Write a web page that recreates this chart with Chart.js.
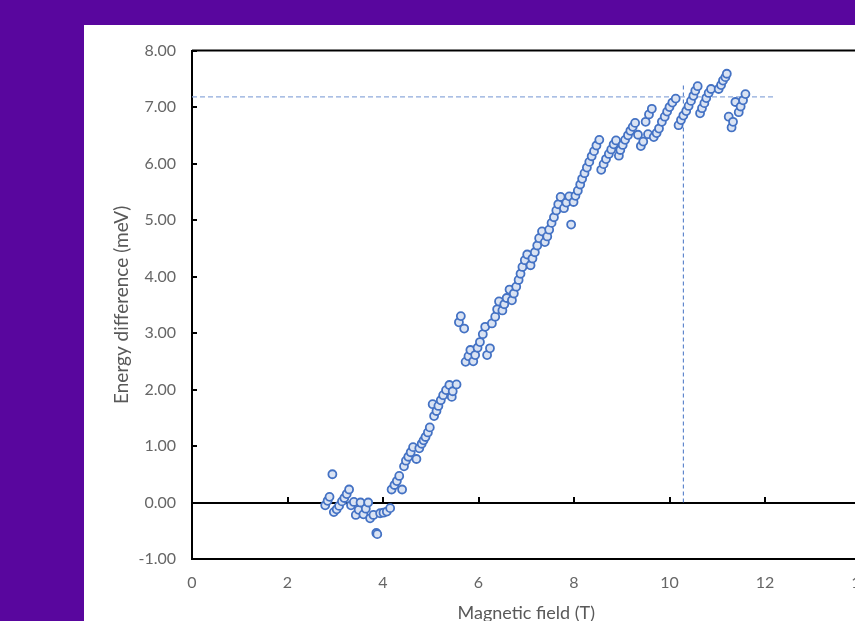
<!DOCTYPE html>
<html>
<head>
<meta charset="utf-8">
<script src="https://cdn.jsdelivr.net/npm/chart.js@4.4.1/dist/chart.umd.min.js"></script>
<style>
  html, body { margin: 0; padding: 0; width: 855px; height: 621px; overflow: hidden; background: #59069e; }
  #panel { position: absolute; left: 84px; top: 25px; width: 820px; height: 620px; background: #ffffff; }
  canvas { display: block; }
</style>
</head>
<body>
<div id="panel"><canvas id="chart" width="820" height="620"></canvas></div>
<script>
// Measured energy splitting versus applied field
const fieldT = [
  2.79, 2.84, 2.88, 2.94, 2.97, 3.03, 3.08, 3.14, 3.19, 3.24, 3.29, 3.33, 3.39, 3.43, 3.49, 3.53,
  3.59, 3.64, 3.69, 3.73, 3.80, 3.86, 3.88, 3.94, 4.01, 4.08, 4.15, 4.18, 4.24, 4.29, 4.34, 4.40,
  4.44, 4.48, 4.53, 4.58, 4.63, 4.70, 4.76, 4.81, 4.85, 4.89, 4.94, 4.98, 5.04, 5.07, 5.12, 5.16,
  5.21, 5.26, 5.32, 5.39, 5.44, 5.46, 5.54, 5.59, 5.63, 5.70, 5.73, 5.79, 5.83, 5.89, 5.93, 5.98,
  6.03, 6.09, 6.14, 6.18, 6.24, 6.28, 6.35, 6.39, 6.43, 6.50, 6.54, 6.59, 6.65, 6.70, 6.74, 6.79,
  6.84, 6.88, 6.92, 6.97, 7.02, 7.09, 7.13, 7.18, 7.23, 7.27, 7.33, 7.39, 7.44, 7.48, 7.53, 7.58,
  7.63, 7.67, 7.72, 7.79, 7.84, 7.90, 7.94, 7.99, 8.03, 8.08, 8.13, 8.17, 8.22, 8.27, 8.32, 8.37,
  8.42, 8.47, 8.53, 8.57, 8.62, 8.67, 8.73, 8.78, 8.83, 8.88, 8.94, 8.97, 9.02, 9.07, 9.13, 9.18,
  9.23, 9.28, 9.34, 9.40, 9.45, 9.50, 9.55, 9.57, 9.63, 9.67, 9.73, 9.78, 9.84, 9.90, 9.95, 10.00,
  10.06, 10.13, 10.19, 10.24, 10.29, 10.35, 10.40, 10.45, 10.50, 10.54, 10.59, 10.64, 10.68, 10.73, 10.77, 10.82,
  10.87, 11.03, 11.08, 11.12, 11.17, 11.20, 11.24, 11.30, 11.33, 11.38, 11.45, 11.49, 11.54, 11.59
];
const energyMeV = [
  -0.05, 0.03, 0.10, 0.50, -0.17, -0.12, -0.06, 0.02, 0.08, 0.15, 0.23, -0.05, 0.01, -0.22, -0.13, 0.00,
  -0.21, -0.11, 0.00, -0.28, -0.22, -0.54, -0.56, -0.19, -0.18, -0.16, -0.10, 0.23, 0.31, 0.38, 0.47, 0.23,
  0.64, 0.74, 0.81, 0.89, 0.98, 0.77, 0.96, 1.04, 1.10, 1.16, 1.24, 1.33, 1.74, 1.53, 1.62, 1.71,
  1.81, 1.90, 1.99, 2.08, 1.87, 1.97, 2.09, 3.19, 3.30, 3.08, 2.49, 2.59, 2.70, 2.50, 2.61, 2.74,
  2.84, 2.98, 3.11, 2.61, 2.73, 3.17, 3.29, 3.42, 3.56, 3.40, 3.51, 3.62, 3.77, 3.58, 3.70, 3.82,
  3.94, 4.05, 4.17, 4.29, 4.39, 4.20, 4.32, 4.43, 4.55, 4.68, 4.80, 4.61, 4.71, 4.83, 4.95, 5.05,
  5.17, 5.28, 5.41, 5.21, 5.31, 5.42, 4.92, 5.32, 5.43, 5.52, 5.63, 5.73, 5.83, 5.93, 6.03, 6.13,
  6.22, 6.32, 6.42, 5.89, 5.99, 6.08, 6.17, 6.25, 6.34, 6.41, 6.14, 6.24, 6.33, 6.42, 6.50, 6.58,
  6.65, 6.72, 6.51, 6.31, 6.39, 6.74, 6.52, 6.87, 6.97, 6.47, 6.54, 6.62, 6.74, 6.83, 6.92, 7.00,
  7.08, 7.15, 6.68, 6.77, 6.85, 6.93, 7.02, 7.11, 7.20, 7.29, 7.37, 6.89, 6.98, 7.07, 7.16, 7.25,
  7.32, 7.32, 7.39, 7.47, 7.53, 7.59, 6.83, 6.64, 6.74, 7.09, 6.91, 7.01, 7.12, 7.23
];

// Saturation level and the field where it is reached
const plateauLine = { fieldFrom: 0, fieldTo: 12.17, energy: 7.18 };
const onsetLine = { field: 10.29, energyFrom: 0, energyTo: 7.42 };

// Axis ranges
const fieldAxis = { min: 0, max: 14, step: 2 };
const energyAxis = { min: -1, max: 8, step: 1 };

const points = fieldT.map((x, i) => ({ x, y: energyMeV[i] }));

// Plot frame, inner tick marks and tick marks along the zero line
const axisFrame = {
  id: 'axisFrame',
  beforeDatasetsDraw(chart) {
    const { ctx, chartArea: a, scales: { x, y } } = chart;
    ctx.save();
    ctx.strokeStyle = '#000';
    ctx.lineWidth = 2;
    ctx.beginPath();
    ctx.moveTo(a.left, a.top);
    ctx.lineTo(a.right, a.top);
    ctx.lineTo(a.right, a.bottom);
    const y0 = Math.round(y.getPixelForValue(0));
    y.ticks.forEach(t => {
      const py = Math.round(y.getPixelForValue(t.value));
      ctx.moveTo(a.left, py);
      ctx.lineTo(a.left + 5, py);
    });
    x.ticks.forEach(t => {
      if (t.value <= fieldAxis.min) return;
      const px = Math.round(x.getPixelForValue(t.value));
      ctx.moveTo(px, y0);
      ctx.lineTo(px, y0 - 6);
    });
    ctx.stroke();
    ctx.restore();
  }
};

const tickFont = { family: 'Lato', size: 16 };
const titleFont = { family: 'Lato', size: 18 };

new Chart(document.getElementById('chart'), {
  type: 'scatter',
  data: {
    datasets: [
      {
        data: points,
        pointRadius: 4,
        pointBorderWidth: 1.8,
        pointBackgroundColor: '#dae3f3',
        pointBorderColor: '#4472c4',
        showLine: false
      },
      {
        data: [
          { x: plateauLine.fieldFrom, y: plateauLine.energy },
          { x: plateauLine.fieldTo, y: plateauLine.energy }
        ],
        showLine: true,
        borderColor: '#8faadc',
        borderWidth: 1.3,
        borderDash: [5, 3],
        pointRadius: 0
      },
      {
        data: [
          { x: onsetLine.field, y: onsetLine.energyFrom },
          { x: onsetLine.field, y: onsetLine.energyTo }
        ],
        showLine: true,
        borderColor: '#4472c4',
        borderWidth: 1,
        borderDash: [4, 3],
        pointRadius: 0
      }
    ]
  },
  options: {
    responsive: false,
    animation: false,
    events: [],
    layout: { padding: { left: 0, top: 24, right: 43.5, bottom: 0 } },
    plugins: { legend: { display: false }, tooltip: { enabled: false } },
    scales: {
      x: {
        type: 'linear',
        min: fieldAxis.min,
        max: fieldAxis.max,
        ticks: { stepSize: fieldAxis.step, color: '#666666', font: tickFont, padding: 14 },
        grid: { display: false, drawTicks: false },
        border: { display: true, color: '#000', width: 2 },
        title: {
          display: true,
          text: 'Magnetic field (T)',
          color: '#595959',
          font: titleFont,
          padding: { top: 0, bottom: 21 }
        },
        afterFit(scale) { scale.height = 86; }
      },
      y: {
        type: 'linear',
        min: energyAxis.min,
        max: energyAxis.max,
        ticks: {
          stepSize: energyAxis.step,
          color: '#666666',
          font: tickFont,
          padding: 16,
          callback: v => v.toFixed(2)
        },
        grid: {
          drawTicks: false,
          lineWidth: 2,
          color: ctx => (ctx.tick && ctx.tick.value === 0 ? '#000' : 'rgba(0,0,0,0)')
        },
        border: { display: true, color: '#000', width: 2 },
        title: {
          display: true,
          text: 'Energy difference (meV)',
          color: '#595959',
          font: { family: 'Lato', size: 19 },
          padding: { top: 26.6, bottom: 0 }
        },
        afterFit(scale) { scale.width = 108; }
      }
    }
  },
  plugins: [axisFrame]
});
</script>
</body>
</html>
